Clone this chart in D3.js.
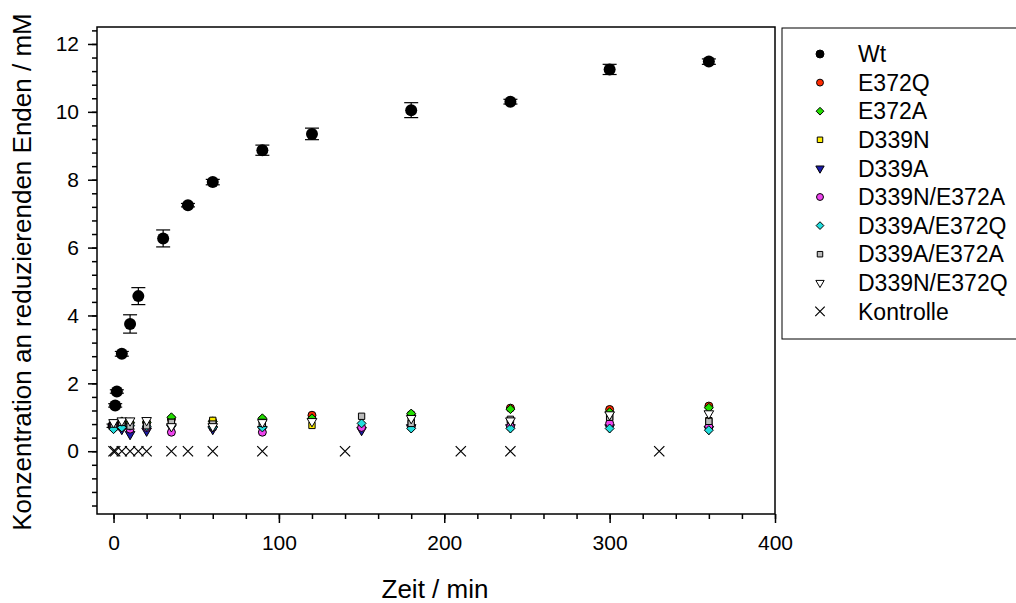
<!DOCTYPE html>
<html>
<head>
<meta charset="utf-8">
<script src="https://cdn.jsdelivr.net/npm/d3@7"></script>
<style>
  body { margin: 0; background: #fff; }
  text { font-family: Arial, "Liberation Sans", sans-serif; }
</style>
</head>
<body>
<svg id="chart" width="1016" height="603"></svg>
<script>
// Wt: time, value, error
const wtTime = [0, 1, 2, 5, 10, 15, 30, 45, 60, 90, 120, 180, 240, 300, 360];
const wtValue = [0.75, 1.35, 1.76, 2.87, 3.75, 4.57, 6.27, 7.25, 7.93, 8.87, 9.35, 10.05, 10.3, 11.25, 11.48];
const wtError = [0.05, 0.05, 0.05, 0.07, 0.27, 0.25, 0.25, 0.05, 0.08, 0.15, 0.17, 0.22, 0.07, 0.15, 0.08];

// mutants measured on two time grids
const timeA = [0, 5, 10, 20, 35, 60, 90, 120, 180, 240, 300, 360];
const timeB = [0, 5, 10, 20, 35, 60, 90, 150, 180, 240, 300, 360];

const e372q = [0.78, 0.85, 0.82, 0.85, 0.95, 0.88, 0.93, 1.06, 1.08, 1.27, 1.23, 1.33];
const e372a = [0.80, 0.88, 0.85, 0.85, 1.00, 0.88, 0.97, 0.97, 1.11, 1.24, 1.15, 1.28];
const d339n = [0.75, 0.80, 0.80, 0.80, 0.85, 0.91, 0.85, 0.76, 0.90, 0.90, 1.00, 0.90];
const d339nE372q = [0.85, 0.90, 0.90, 0.91, 0.73, 0.73, 0.85, 0.88, 0.97, 0.90, 1.08, 1.11];

const d339a = [0.70, 0.65, 0.50, 0.60, 0.70, 0.65, 0.65, 0.62, 0.70, 0.70, 0.70, 0.65];
const d339nE372a = [0.75, 0.70, 0.65, 0.70, 0.56, 0.70, 0.56, 0.70, 0.72, 0.72, 0.82, 0.73];
const d339aE372q = [0.65, 0.70, 0.75, 0.73, 0.75, 0.70, 0.70, 0.82, 0.67, 0.67, 0.67, 0.62];
const d339aE372a = [0.80, 0.85, 0.74, 0.75, 0.85, 0.80, 0.82, 1.03, 0.82, 0.94, 1.00, 0.88];

const kontrolleTime = [0, 1, 5, 10, 15, 20, 35, 45, 60, 90, 140, 210, 240, 330];
const kontrolleValue = [0, 0, 0, 0, 0, 0, 0, 0, 0, 0, 0, 0, 0, 0];

const xTicks = [0, 100, 200, 300, 400];
const yTicks = [0, 2, 4, 6, 8, 10, 12];

const svg = d3.select("#chart");
const plotLeft = 97, plotRight = 775, plotTop = 27, plotBottom = 514;

const x = d3.scaleLinear().domain([-10, 400]).range([plotLeft, plotRight]);
const y = d3.scaleLinear().domain([-1.85, 12.5]).range([plotBottom, plotTop]);

// downward triangle symbol
const triDown = {
  draw(ctx, size) {
    const s = Math.sqrt(size * 4 / Math.sqrt(3));
    const h = s * Math.sqrt(3) / 2;
    ctx.moveTo(-s / 2, -h / 3);
    ctx.lineTo(s / 2, -h / 3);
    ctx.lineTo(0, 2 * h / 3);
    ctx.closePath();
  }
};
// square rotated 45 degrees
const rhomb = {
  draw(ctx, size) {
    const r = Math.sqrt(size / 2);
    ctx.moveTo(0, -r);
    ctx.lineTo(r, 0);
    ctx.lineTo(0, r);
    ctx.lineTo(-r, 0);
    ctx.closePath();
  }
};

// series list (draw order = legend order)
const series = [
  { name: "E372Q", time: timeA, values: e372q, type: d3.symbolCircle, size: 50, fill: "#ff2a00" },
  { name: "E372A", time: timeA, values: e372a, type: rhomb, size: 40, fill: "#22dd00" },
  { name: "D339N", time: timeA, values: d339n, type: d3.symbolSquare, size: 40, fill: "#ffee00" },
  { name: "D339A", time: timeB, values: d339a, type: triDown, size: 40, fill: "#1a1aaa" },
  { name: "D339N/E372A", time: timeB, values: d339nE372a, type: d3.symbolCircle, size: 50, fill: "#ee44ee" },
  { name: "D339A/E372Q", time: timeB, values: d339aE372q, type: rhomb, size: 40, fill: "#22dddd" },
  { name: "D339A/E372A", time: timeB, values: d339aE372a, type: d3.symbolSquare, size: 40, fill: "#bbbbbb" },
  { name: "D339N/E372Q", time: timeA, values: d339nE372q, type: triDown, size: 40, fill: "#ffffff" }
];

// axes
const xAxis = d3.axisBottom(x).tickValues(xTicks).tickSize(9).tickPadding(12);
const xMinor = d3.axisBottom(x).tickValues(d3.range(0, 401, 20)).tickSize(5).tickFormat("");
const yAxis = d3.axisLeft(y).tickValues(yTicks).tickSize(9).tickPadding(9);
const yMinor = d3.axisLeft(y).tickValues(d3.range(-1.6, 12.45, 0.4)).tickSize(5).tickFormat("");

function styleAxis(g) {
  g.select(".domain").remove();
  g.selectAll("line").attr("stroke", "#000").attr("stroke-width", 1.5);
  g.selectAll("text").attr("fill", "#000").style("font-size", "21px");
}

svg.append("g").attr("transform", `translate(0,${plotBottom})`).call(xMinor).call(styleAxis);
svg.append("g").attr("transform", `translate(0,${plotBottom})`).call(xAxis).call(styleAxis);
svg.append("g").attr("transform", `translate(${plotLeft},0)`).call(yMinor).call(styleAxis);
svg.append("g").attr("transform", `translate(${plotLeft},0)`).call(yAxis).call(styleAxis);

// frame
svg.append("rect")
  .attr("x", plotLeft).attr("y", plotTop)
  .attr("width", plotRight - plotLeft).attr("height", plotBottom - plotTop)
  .attr("fill", "none").attr("stroke", "#000").attr("stroke-width", 1.5);

// Kontrolle
svg.append("g").selectAll("path")
  .data(kontrolleTime.map((t, i) => [t, kontrolleValue[i]]))
  .join("path")
  .attr("transform", d => `translate(${x(d[0])},${y(d[1])})`)
  .attr("d", d3.symbol(d3.symbolTimes, 70)())
  .attr("fill", "none").attr("stroke", "#000").attr("stroke-width", 1.2);

// Wt error bars and points
const wt = wtTime.map((t, i) => ({ t: t, v: wtValue[i], e: wtError[i] }));
const wtG = svg.append("g");
wt.forEach(d => {
  const g = wtG.append("g").attr("stroke", "#000").attr("stroke-width", 1.2);
  g.append("line").attr("x1", x(d.t)).attr("x2", x(d.t)).attr("y1", y(d.v - d.e)).attr("y2", y(d.v + d.e));
  g.append("line").attr("x1", x(d.t) - 7).attr("x2", x(d.t) + 7).attr("y1", y(d.v - d.e)).attr("y2", y(d.v - d.e));
  g.append("line").attr("x1", x(d.t) - 7).attr("x2", x(d.t) + 7).attr("y1", y(d.v + d.e)).attr("y2", y(d.v + d.e));
});
wtG.selectAll("circle").data(wt).join("circle")
  .attr("cx", d => x(d.t)).attr("cy", d => y(d.v)).attr("r", 6).attr("fill", "#000");

// mutants
series.forEach(s => {
  svg.append("g").selectAll("path")
    .data(s.time.map((t, i) => [t, s.values[i]]))
    .join("path")
    .attr("transform", d => `translate(${x(d[0])},${y(d[1])})`)
    .attr("d", d3.symbol(s.type, s.size)())
    .attr("fill", s.fill).attr("stroke", "#000").attr("stroke-width", 1);
});

// axis titles
svg.append("text")
  .attr("x", (plotLeft + plotRight) / 2 - 1).attr("y", 598)
  .attr("text-anchor", "middle").style("font-size", "26px")
  .text("Zeit / min");
svg.append("text")
  .attr("transform", "translate(31,272) rotate(-90)")
  .attr("text-anchor", "middle").style("font-size", "26px")
  .text("Konzentration an reduzierenden Enden / mM");

// legend
const legend = svg.append("g");
legend.append("rect")
  .attr("x", 782).attr("y", 28).attr("width", 260).attr("height", 311)
  .attr("fill", "#fff").attr("stroke", "#000").attr("stroke-width", 1);

const legendItems = [{ name: "Wt", type: d3.symbolCircle, size: 50, fill: "#000" }]
  .concat(series.map(s => ({ name: s.name, type: s.type, size: s.size * 0.75, fill: s.fill })))
  .concat([{ name: "Kontrolle", type: d3.symbolTimes, size: 60, fill: "none" }]);

legendItems.forEach((d, i) => {
  const yy = 54 + i * 28.6;
  legend.append("path")
    .attr("transform", `translate(820,${yy})`)
    .attr("d", d3.symbol(d.type, d.size)())
    .attr("fill", d.fill)
    .attr("stroke", "#000").attr("stroke-width", d.name === "Kontrolle" ? 1.2 : 1);
  legend.append("text")
    .attr("x", 858).attr("y", yy).attr("dy", "0.36em")
    .style("font-size", "23px")
    .text(d.name);
});
</script>
</body>
</html>
